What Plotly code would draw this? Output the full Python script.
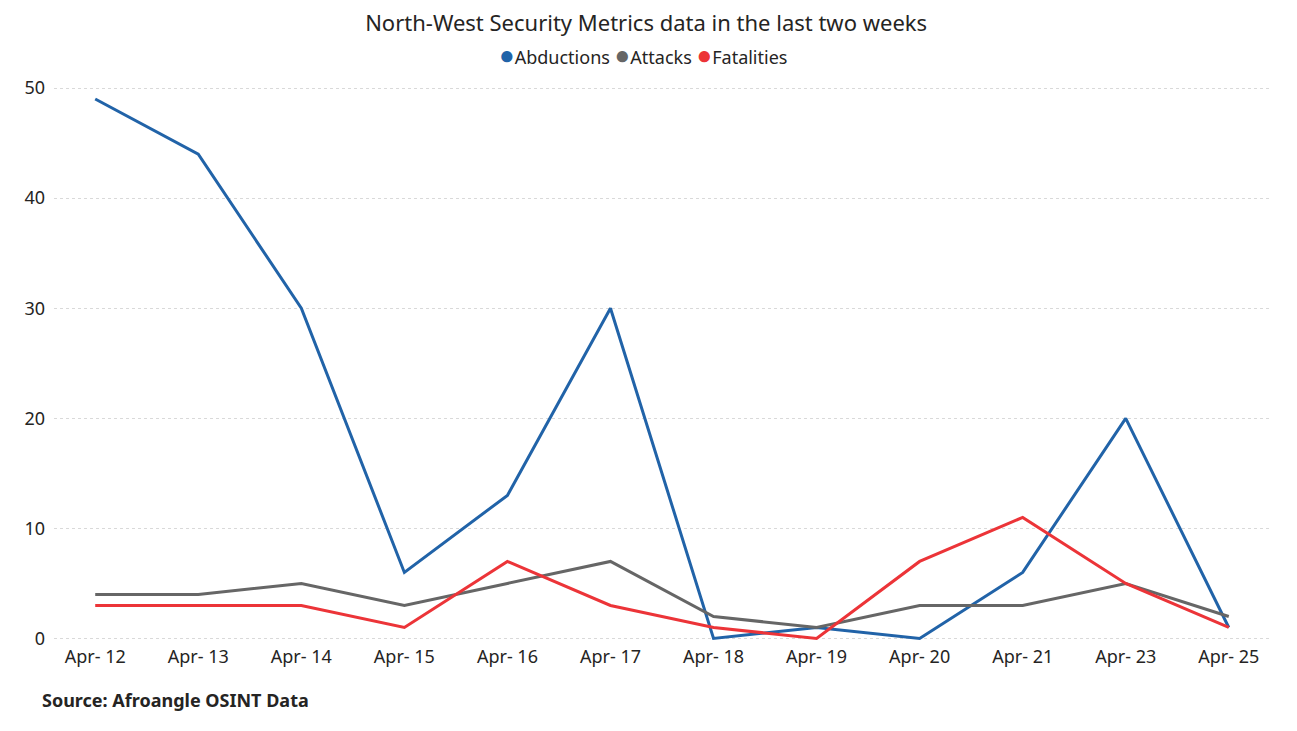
import plotly.graph_objects as go

dates = ["Apr- 12", "Apr- 13", "Apr- 14", "Apr- 15", "Apr- 16", "Apr- 17",
         "Apr- 18", "Apr- 19", "Apr- 20", "Apr- 21", "Apr- 23", "Apr- 25"]
abductions = [49, 44, 30, 6, 13, 30, 0, 1, 0, 6, 20, 1]
attacks = [4, 4, 5, 3, 5, 7, 2, 1, 3, 3, 5, 2]
fatalities = [3, 3, 3, 1, 7, 3, 1, 0, 7, 11, 5, 1]
y_ticks = [0, 10, 20, 30, 40, 50]

series = [
    ("Abductions", abductions, "#2163A8"),
    ("Attacks", attacks, "#666666"),
    ("Fatalities", fatalities, "#EC3438"),
]

FONT = "Noto Sans"
TXT = "#252423"
fig = go.Figure()
for name, vals, col in series:
    fig.add_trace(go.Scatter(x=dates, y=vals, mode="lines", name=name,
                             line=dict(color=col, width=3), showlegend=False))

legend_text = " ".join(
    f"<span style='color:{col};font-size:26px'>●</span>{name}" for name, _, col in series)

fig.update_layout(
    width=1297, height=731,
    paper_bgcolor="white", plot_bgcolor="white",
    margin=dict(l=46, r=35, t=58, b=95),
    font=dict(family=FONT, color=TXT, size=18),
    title=dict(text="North-West Security Metrics data in the last two weeks",
               x=0.492, xanchor="center", y=1 - 15 / 731, yanchor="middle",
               font=dict(family=FONT, size=22, color=TXT)),
    showlegend=False,
    hovermode=False,
)
fig.update_xaxes(type="category", range=[-0.4, 11.4], showgrid=False,
                 showline=False, zeroline=False, ticks="",
                 tickfont=dict(family=FONT, size=18, color=TXT))
fig.update_yaxes(range=[-0.5, 52], tickvals=y_ticks, showgrid=True,
                 gridcolor="#d9d9d9", griddash="dot", gridwidth=1,
                 zeroline=False, showline=False, ticks="",
                 ticklabelstandoff=8,
                 tickfont=dict(family=FONT, size=18, color=TXT))
fig.add_annotation(text=legend_text, xref="paper", yref="paper",
                   x=0.484, y=1.0208, xanchor="center", yanchor="middle",
                   showarrow=False, font=dict(family=FONT, size=18, color=TXT))
fig.add_annotation(text="<b>Source: Afroangle OSINT Data</b>", xref="paper", yref="paper",
                   x=-0.0115, y=-0.097, xanchor="left", yanchor="middle", showarrow=False,
                   font=dict(family=FONT, size=18, color=TXT))
fig.write_html("out.html")
